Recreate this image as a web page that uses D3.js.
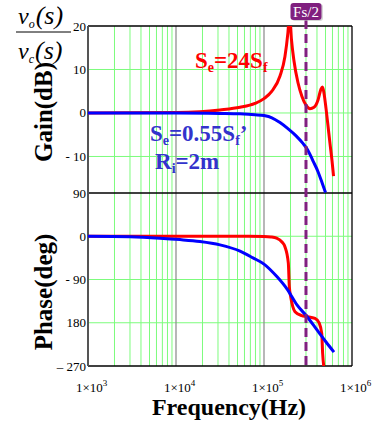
<!DOCTYPE html>
<html><head><meta charset="utf-8">
<script src="https://cdn.jsdelivr.net/npm/d3@7"></script>
<style>body{margin:0;background:#fff}svg{display:block}</style>
</head><body>
<svg id="chart" width="372" height="424"></svg>
<script>
// ---- data ----
const redGainFreq = [1000,10000,18700,31600,53400,79000,100000,123000,152000,173000,187000,192000,198000,205000,219000,243000,270000,300000,333000,370000,411000,444000,462000,481000,507000,534000,562000,593000,617000];
const redGainDb   = [0,0.1,0.3,0.7,1.3,2.2,3.3,5.0,8.5,13,18.5,21,21,17,12,7,3.8,1.8,1.0,1.3,3.0,5.5,6.0,4.5,1.0,-3,-7,-11,-14.5];
const blueGainFreq = [1000,10000,31600,53400,79000,100000,123000,152000,187000,230000,277000,316000,360000,411000,456000,500000];
const blueGainDb   = [0,0,-0.1,-0.2,-0.4,-0.6,-1.1,-2.2,-3.6,-5.2,-7.0,-8.6,-11,-13.5,-16,-18.3];
const redPhaseFreq = [1000,50000,100000,120000,139000,160000,173000,189000,194000,201000,212000,225000,268000,305000,380000,425000,453000,464000,481000];
const redPhaseDeg  = [0,0,-0.5,-1.5,-4,-12,-22,-56,-105,-126,-146,-157,-165,-167,-171,-181,-202,-244,-275];
const bluePhaseFreq = [1000,3000,6600,11100,18700,31600,53400,75000,100000,140000,183000,237000,308000,400000,507000,624000];
const bluePhaseDeg  = [0,-1,-4,-7,-11,-18,-31,-45,-58,-84,-110,-143,-167,-195,-220,-241];
const gainTicks = [20,10,0,-10];
const gainTickLabels = ["20","10","0","- 10"];
const phaseTicks = [90,0,-90,-180,-270];
const phaseTickLabels = ["90","0","- 90","180","\u2013 270"];
const decadeTicks = [1e3,1e4,1e5,1e6];
const decadeExps = ["3","4","5","6"];
const fsHalf = 300000;

// ---- layout ----
const svg = d3.select("#chart");
const serif = "'Liberation Serif','Times New Roman',serif";
const L = 88, R = 352, gTop = 26, gBot = 193, pTop = 193, pBot = 366;
const x = d3.scaleLog().domain([1e3,1e6]).range([L,R]);
const yG = d3.scaleLinear().domain([-18.4,20]).range([gBot,gTop]);
const yP = d3.scaleLinear().domain([-270,90]).range([pBot,pTop]);

const defs = svg.append("defs");
defs.append("clipPath").attr("id","cg").append("rect").attr("x",L).attr("y",gTop).attr("width",R-L).attr("height",gBot-gTop);
defs.append("clipPath").attr("id","cp").append("rect").attr("x",L).attr("y",pTop).attr("width",R-L).attr("height",pBot-pTop);

// minor grid lines
const minor = [];
for (let d=1e3; d<1e6; d*=10) for (let k=2;k<=9;k++) minor.push(d*k);
const grid = svg.append("g");
grid.selectAll("line.mv").data(minor).join("line")
  .attr("x1",d=>x(d)).attr("x2",d=>x(d)).attr("y1",gTop).attr("y2",pBot)
  .attr("stroke","#7dfc7d").attr("stroke-width",1);
grid.selectAll("line.hg").data(gainTicks.filter(d=>d<20)).join("line")
  .attr("x1",L).attr("x2",R).attr("y1",d=>yG(d)).attr("y2",d=>yG(d))
  .attr("stroke","#7dfc7d").attr("stroke-width",1);
grid.selectAll("line.hp").data(phaseTicks.filter(d=>d<90 && d>-270)).join("line")
  .attr("class","hp").attr("x1",L).attr("x2",R).attr("y1",d=>yP(d)).attr("y2",d=>yP(d))
  .attr("stroke","#7dfc7d").attr("stroke-width",1);
grid.selectAll("line.dv").data(decadeTicks.slice(1,3)).join("line")
  .attr("class","dv").attr("x1",d=>x(d)).attr("x2",d=>x(d)).attr("y1",gTop).attr("y2",pBot)
  .attr("stroke","#888").attr("stroke-width",1.2);

// frame
const fr = svg.append("g").attr("stroke","#000").attr("stroke-width",1.3);
fr.append("line").attr("x1",L).attr("x2",R).attr("y1",gTop).attr("y2",gTop);
fr.append("line").attr("x1",L).attr("x2",R).attr("y1",gBot).attr("y2",gBot);
fr.append("line").attr("x1",L).attr("x2",R).attr("y1",pBot).attr("y2",pBot);
fr.append("line").attr("x1",R).attr("x2",R).attr("y1",gTop).attr("y2",pBot);
svg.append("line").attr("x1",L).attr("x2",L).attr("y1",gTop).attr("y2",pBot).attr("stroke","#555").attr("stroke-width",2);

// tick labels
svg.append("g").selectAll("text").data(gainTicks).join("text")
  .attr("x",86).attr("y",d=>yG(d)+4.5).attr("text-anchor","end")
  .attr("font-family",serif).attr("font-size",13).text((d,i)=>gainTickLabels[i]);
svg.append("g").selectAll("text").data(phaseTicks).join("text")
  .attr("x",86).attr("y",d=>yP(d)+4.5).attr("text-anchor","end")
  .attr("font-family",serif).attr("font-size",13).text((d,i)=>phaseTickLabels[i]);
const xt = svg.append("g").selectAll("text").data(decadeTicks).join("text")
  .attr("x",d=>x(d)-12).attr("y",392).attr("font-family",serif).attr("font-size",13);
xt.append("tspan").text("1\u00d710");
xt.append("tspan").attr("dy",-6).attr("font-size",9).text((d,i)=>decadeExps[i]);

// curves
const line = (fx, fy) => d3.line().x((d)=>x(d[0])).y(d=>fy(d[1])).curve(d3.curveMonotoneX);
const zip = (a,b)=>a.map((v,i)=>[v,b[i]]);
const cg = svg.append("g").attr("clip-path","url(#cg)");
cg.append("path").attr("d",line(x,yG)(zip(redGainFreq,redGainDb))).attr("fill","none").attr("stroke","#ff0000").attr("stroke-width",3);
cg.append("path").attr("d",line(x,yG)(zip(blueGainFreq,blueGainDb))).attr("fill","none").attr("stroke","#0000ff").attr("stroke-width",3);
const cp = svg.append("g").attr("clip-path","url(#cp)");
cp.append("path").attr("d",line(x,yP)(zip(redPhaseFreq,redPhaseDeg))).attr("fill","none").attr("stroke","#ff0000").attr("stroke-width",3);
cp.append("path").attr("d",line(x,yP)(zip(bluePhaseFreq,bluePhaseDeg))).attr("fill","none").attr("stroke","#0000ff").attr("stroke-width",3);

// Fs/2 marker
svg.append("line").attr("x1",x(fsHalf)).attr("x2",x(fsHalf)).attr("y1",20).attr("y2",368)
  .attr("stroke","#80207f").attr("stroke-width",3).attr("stroke-dasharray","9,5");
svg.append("rect").attr("x",x(fsHalf)-14).attr("y",4).attr("width",31).attr("height",17).attr("rx",3).attr("fill","#bbb").attr("opacity",0.6);
svg.append("rect").attr("x",x(fsHalf)-15.5).attr("y",3).attr("width",31).attr("height",17).attr("rx",3).attr("fill","#80207f");
svg.append("text").attr("x",x(fsHalf)).attr("y",16.5).attr("text-anchor","middle").attr("fill","#fff")
  .attr("font-family",serif).attr("font-size",15).text("Fs/2");

// annotations
function rich(xp, yp, color, parts){
  const t = svg.append("text").attr("x",xp).attr("y",yp).attr("fill",color)
    .attr("font-family",serif).attr("font-weight","bold").attr("font-size",23);
  parts.forEach(p=>{
    const s = t.append("tspan").text(p[0]);
    if (p[1]==="sub") s.attr("font-size",14).attr("dy",4);
    if (p[1]==="up") s.attr("dy",-4);
  });
  return t;
}
rich(195,68,"#ff0000",[["S"],["e","sub"],["=24S","up"],["f","sub"]]);
rich(150,141,"#3333cc",[["S"],["e","sub"],["=0.55S","up"],["f","sub"],["\u2019","up"]]);
rich(155,169,"#3333cc",[["R"],["i","sub"],["=2m","up"]]);

// axis titles
svg.append("text").attr("transform","translate(52,112) rotate(-90)").attr("text-anchor","middle")
  .attr("font-family",serif).attr("font-weight","bold").attr("font-size",25).text("Gain(dB)");
svg.append("text").attr("transform","translate(52,292) rotate(-90)").attr("text-anchor","middle")
  .attr("font-family",serif).attr("font-weight","bold").attr("font-size",25).text("Phase(deg)");
svg.append("text").attr("x",229).attr("y",415).attr("text-anchor","middle")
  .attr("font-family",serif).attr("font-weight","bold").attr("font-size",24).text("Frequency(Hz)");

// transfer function label
function frac(yp, sub){
  const t = svg.append("text").attr("x",18).attr("y",yp).attr("font-family",serif).attr("font-size",24).attr("font-style","italic");
  t.append("tspan").text("v");
  t.append("tspan").attr("font-size",12).attr("dy",4).text(sub);
  t.append("tspan").attr("dy",-4).attr("dx",1).attr("font-size",26).text("(s)");
}
frac(24,"o");
svg.append("line").attr("x1",16).attr("x2",71).attr("y1",32).attr("y2",32).attr("stroke","#000").attr("stroke-width",1);
frac(59,"c");
</script>
</body></html>
